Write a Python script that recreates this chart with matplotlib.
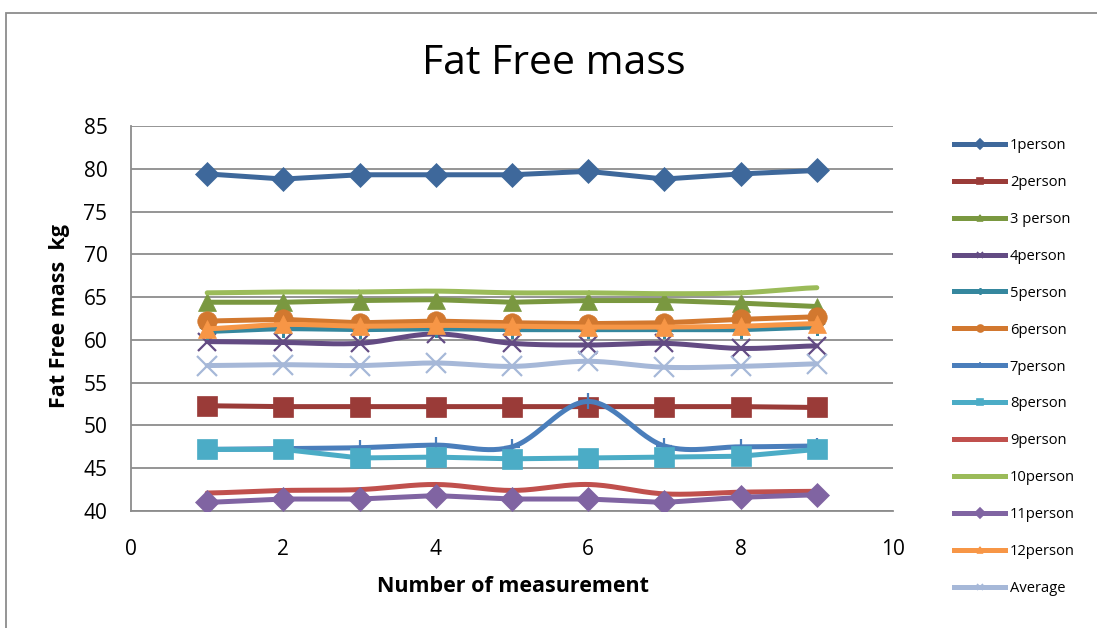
import numpy as np
import matplotlib.pyplot as plt
from matplotlib.lines import Line2D
from matplotlib.patches import Rectangle

plt.rcParams['font.family'] = ['Open Sans', 'DejaVu Sans']

# measurement number
x = [1, 2, 3, 4, 5, 6, 7, 8, 9]

names = ['1person', '2person', '3 person', '4person', '5person', '6person',
         '7person', '8person', '9person', '10person', '11person', '12person',
         'Average']

p1 = [79.4, 78.8, 79.3, 79.3, 79.3, 79.7, 78.8, 79.4, 79.8]
p2 = [52.3, 52.2, 52.2, 52.2, 52.2, 52.2, 52.2, 52.2, 52.1]
p3 = [64.4, 64.4, 64.6, 64.7, 64.4, 64.6, 64.6, 64.3, 63.9]
p4 = [59.8, 59.7, 59.6, 60.7, 59.6, 59.4, 59.6, 59.0, 59.3]
p5 = [61.0, 61.3, 61.2, 61.3, 61.2, 61.2, 61.2, 61.2, 61.5]
p6 = [62.2, 62.4, 62.0, 62.2, 62.0, 61.9, 62.0, 62.4, 62.7]
p7 = [47.2, 47.3, 47.4, 47.7, 47.5, 52.8, 47.6, 47.5, 47.6]
p8 = [47.2, 47.2, 46.2, 46.3, 46.1, 46.2, 46.3, 46.4, 47.2]
p9 = [42.1, 42.4, 42.5, 43.1, 42.4, 43.1, 42.0, 42.2, 42.3]
p10 = [65.5, 65.6, 65.6, 65.7, 65.5, 65.5, 65.4, 65.5, 66.1]
p11 = [41.0, 41.4, 41.4, 41.8, 41.4, 41.4, 41.0, 41.6, 41.9]
p12 = [61.3, 61.8, 61.6, 61.7, 61.6, 61.5, 61.5, 61.6, 61.9]
avg = [57.0, 57.1, 57.0, 57.3, 56.9, 57.5, 56.8, 56.9, 57.2]

series = [p1, p2, p3, p4, p5, p6, p7, p8, p9, p10, p11, p12, avg]

colors = ['#3E689B', '#9A3B38', '#7A9840', '#634B83', '#35879E', '#D2782F',
          '#4A7EBB', '#4BACC6', '#C0504D', '#9BBB59', '#8064A2', '#F79646',
          '#A6B8D8']
markers = ['D', 's', '^', 'x', (6, 2, 0), 'o', '+', 's', None, None, 'D', '^', 'x']
msizes = [12.5, 14, 13, 13, 12, 14, 11, 14, 0, 0, 12, 13, 14]
smooth = [False, False, False, True, True, False, True, False, True, True,
          False, True, True]


def catmull(xs, ys, n=30):
    # smoothed line like excel's "smoothed line" option
    xs = np.asarray(xs, float)
    ys = np.asarray(ys, float)
    px = np.concatenate([[2 * xs[0] - xs[1]], xs, [2 * xs[-1] - xs[-2]]])
    py = np.concatenate([[ys[0]], ys, [ys[-1]]])
    ox, oy = [], []
    t = np.linspace(0, 1, n)
    for i in range(1, len(px) - 2):
        for P, out in ((px, ox), (py, oy)):
            p0, p1_, p2_, p3_ = P[i - 1], P[i], P[i + 1], P[i + 2]
            out.extend(0.5 * ((2 * p1_) + (-p0 + p2_) * t +
                              (2 * p0 - 5 * p1_ + 4 * p2_ - p3_) * t ** 2 +
                              (-p0 + 3 * p1_ - 3 * p2_ + p3_) * t ** 3))
    return ox, oy


W, H = 1097, 628
fig = plt.figure(figsize=(W / 100, H / 100), dpi=100)
ax = fig.add_axes([131 / W, 1 - 511 / H, (893 - 131) / W, (511 - 126) / H])

handles = []
for i, ys in enumerate(series):
    c = colors[i]
    if smooth[i]:
        sx, sy = catmull(x, ys)
    else:
        sx, sy = x, ys
    ax.plot(sx, sy, color=c, lw=3.6, solid_capstyle='round', zorder=3 + i * 0.1)
    if markers[i] is not None:
        mew = 1.6 if markers[i] in ('x', '+') or isinstance(markers[i], tuple) else 0.5
        ax.plot(x, ys, ls='none', marker=markers[i], ms=msizes[i], color=c,
                mec=c, mew=mew, zorder=3 + i * 0.1)
    handles.append(Line2D([], [], color=c, lw=3.6, marker=markers[i],
                          ms=5 if markers[i] is not None else 0,
                          mew=1.2, mec=c))

ax.set_xlim(0, 10)
ax.set_ylim(40, 85)
ax.set_xticks([0, 2, 4, 6, 8, 10])
ax.set_yticks(range(40, 90, 5))
ax.grid(axis='y', color='#8C8C8C', lw=1.3)
ax.set_axisbelow(True)
for s in ['top', 'right']:
    ax.spines[s].set_visible(False)
for s in ['left', 'bottom']:
    ax.spines[s].set_color('#8C8C8C')
    ax.spines[s].set_linewidth(1.3)
ax.tick_params(axis='both', labelsize=15, length=0)
ax.tick_params(axis='x', pad=20)
ax.tick_params(axis='y', pad=17)

fig.text(554 / W, 1 - 64 / H, 'Fat Free mass', fontsize=29.5, ha='center', va='center')
fig.text(513 / W, 1 - 586 / H, 'Number of measurement', fontsize=15.5,
         fontweight='bold', ha='center', va='center')
fig.text(59 / W, 1 - 316 / H, 'Fat Free mass  kg', fontsize=15.5,
         fontweight='bold', ha='center', va='center', rotation=90)

fig.legend(handles, names, loc='upper left', bbox_to_anchor=(948 / W, 1 - 132 / H),
           frameon=False, fontsize=10.6, handlelength=3.5, handletextpad=0.3,
           labelspacing=1.49, borderaxespad=0)

# outer chart border
fig.patches.append(Rectangle((6 / W, -0.1), 1.2, 1 - 13 / H + 0.1,
                             transform=fig.transFigure, fill=False,
                             ec='#8C8C8C', lw=1.3))

fig.savefig('out.png', dpi=100)
